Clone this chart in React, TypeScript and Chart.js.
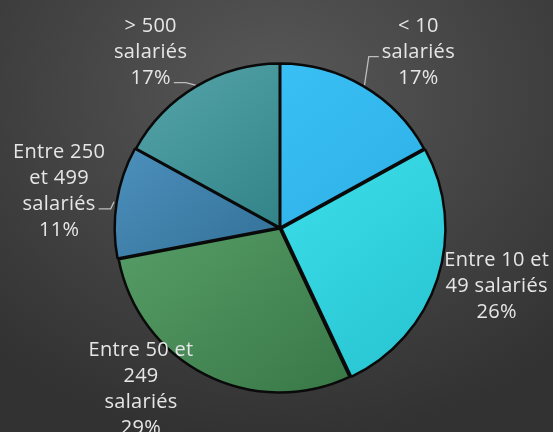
import { useEffect, useRef } from "react";
import { Chart, registerables } from "chart.js";

Chart.register(...registerables);

// ---- data ----
const categories = [
  "< 10 salariés",
  "Entre 10 et 49 salariés",
  "Entre 50 et 249 salariés",
  "Entre 250 et 499 salariés",
  "> 500 salariés",
];
const shares = [17, 26, 29, 11, 17];
const labelLines = [
  ["< 10", "salariés"],
  ["Entre 10 et", "49 salariés"],
  ["Entre 50 et", "249", "salariés"],
  ["Entre 250", "et 499", "salariés"],
  ["> 500", "salariés"],
];

// ---- styles / layout ----
const lightColors = ["#3ec4fb", "#46eef7", "#62ab72", "#5196c4", "#52a2a7"];
const darkColors = ["#28aadd", "#2ac6d4", "#387747", "#1d5677", "#16686c"];
const sliceOffsets = [2, 6, 2, 4, 2];
const labelNudges: [number, number][] = [
  [24, 16],
  [3, -12],
  [-37, -40],
  [1, -3],
  [-15, 16],
];
const leaderSpecs: ({ line: number; side: "left" | "right" } | null)[] = [
  { line: 1, side: "left" },
  null,
  null,
  { line: 2, side: "right" },
  { line: 2, side: "right" },
];
const LABEL_FONT = "20px 'Open Sans'";
const LINE_H = 26;
const LABEL_RADIUS = 1.37;

const labelPlugin = {
  id: "outerLabels",
  afterDatasetsDraw(chart: any) {
    const ctx: CanvasRenderingContext2D = chart.ctx;
    const meta = chart.getDatasetMeta(0);
    ctx.save();
    ctx.font = LABEL_FONT;
    (ctx as any).letterSpacing = "0.3px";
    ctx.fillStyle = "#e6e6e6";
    ctx.textAlign = "center";
    ctx.textBaseline = "alphabetic";
    meta.data.forEach((arc: any, i: number) => {
      const { x, y, startAngle, endAngle, outerRadius } = arc.getProps(
        ["x", "y", "startAngle", "endAngle", "outerRadius"],
        true
      );
      const mid = (startAngle + endAngle) / 2;
      const ax = x + Math.cos(mid) * outerRadius * LABEL_RADIUS + labelNudges[i][0];
      const ay = y + Math.sin(mid) * outerRadius * LABEL_RADIUS + labelNudges[i][1];
      const lines = [...labelLines[i], shares[i] + "%"];
      const n = lines.length;
      const baselines: number[] = [];
      lines.forEach((t, k) => {
        const b = ay + (k - (n - 1) / 2) * LINE_H + 7;
        baselines.push(b);
        ctx.fillText(t, ax, b);
      });
      const spec = leaderSpecs[i];
      if (spec) {
        const w = ctx.measureText(lines[spec.line]).width;
        const ly = baselines[spec.line] - 1;
        const ex = spec.side === "left" ? ax - w / 2 - 3 : ax + w / 2 + 3;
        const elx = spec.side === "left" ? ex - 10 : ex + 12;
        const r = outerRadius + sliceOffsets[i];
        const px = x + Math.cos(mid) * r;
        const py = y + Math.sin(mid) * r;
        ctx.strokeStyle = "#bdbdbd";
        ctx.lineWidth = 1.3;
        ctx.beginPath();
        ctx.moveTo(px, py);
        ctx.lineTo(elx, ly);
        ctx.lineTo(ex, ly);
        ctx.stroke();
      }
    });
    ctx.restore();
  },
};

export default function App() {
  const ref = useRef<HTMLCanvasElement>(null);
  useEffect(() => {
    document.body.style.margin = "0";
    const canvas = ref.current!;
    const chart = new Chart(canvas, {
      type: "pie",
      data: {
        labels: categories,
        datasets: [
          {
            data: shares,
            backgroundColor: (c: any) => {
              const area = c.chart.chartArea;
              if (!area) return lightColors[c.dataIndex];
              const cx = (area.left + area.right) / 2;
              const cy = (area.top + area.bottom) / 2;
              const r = 164;
              const g = c.chart.ctx.createLinearGradient(cx - r * 0.8, cy - r * 0.9, cx + r * 0.6, cy + r * 0.9);
              g.addColorStop(0, lightColors[c.dataIndex]);
              g.addColorStop(1, darkColors[c.dataIndex]);
              return g;
            },
            borderColor: "#0a0a0a",
            borderWidth: 2.5,
            offset: sliceOffsets,
          },
        ],
      },
      options: {
        animation: false,
        responsive: false,
        radius: 164,
        layout: { padding: { left: 27, right: 20, top: 44, bottom: 20 } },
        plugins: {
          legend: { display: false },
          tooltip: { enabled: false },
        },
      } as any,
      plugins: [labelPlugin],
    });
    return () => chart.destroy();
  }, []);
  return (
    <div
      style={{
        width: 553,
        height: 432,
        overflow: "hidden",
        background:
          "radial-gradient(ellipse 75% 80% at 50% 22%, #585858 0%, #434343 55%, #323232 100%)",
      }}
    >
      <canvas ref={ref} width={553} height={432} style={{ display: "block" }} />
    </div>
  );
}
